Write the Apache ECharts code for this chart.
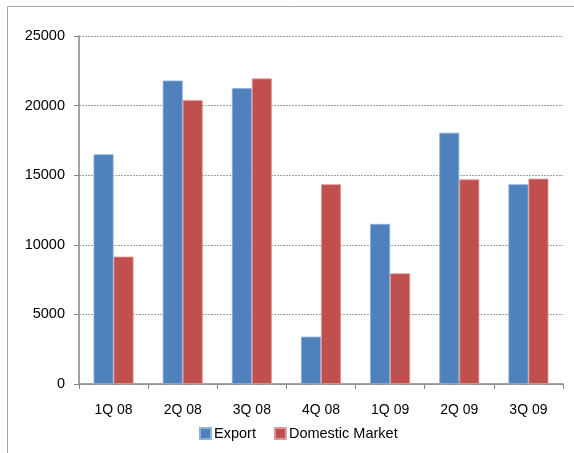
<!DOCTYPE html>
<html><head><meta charset="utf-8">
<script src="https://cdn.jsdelivr.net/npm/echarts@6/dist/echarts.min.js"></script>
<style>html,body{margin:0;padding:0;background:#fff}#c{width:574px;height:453px}</style>
</head><body><div id="c"></div>
<script>
const categories = ['1Q 08','2Q 08','3Q 08','4Q 08','1Q 09','2Q 09','3Q 09'];
const exportValues = [16500, 21800, 21250, 3400, 11500, 18050, 14350];
const domesticValues = [9150, 20400, 21950, 14350, 7950, 14700, 14750];
const yTicks = [0, 5000, 10000, 15000, 20000, 25000];

const chart = echarts.init(document.getElementById('c'));
const font = 'Liberation Sans, Arial, sans-serif';
chart.setOption({
  animation: false,
  graphic: [{type:'rect', shape:{x:7.5,y:6.5,width:600,height:500}, style:{fill:'none',stroke:'#a6a6a6',lineWidth:1}}],
  grid: {left:79, right:11, top:36, bottom:69, containLabel:false},
  legend: {
    left:199, top:426, padding:0, itemWidth:11, itemHeight:11, itemGap:18,
    icon:'rect',
    textStyle:{fontFamily:font, fontSize:14.5, color:'#000', padding:[0,0,0,-2]},
    data:['Export','Domestic Market']
  },
  xAxis: {
    type:'category', data:categories,
    axisLine:{lineStyle:{color:'#868686', width:1.5}},
    axisTick:{show:true, length:5, lineStyle:{color:'#868686'}, alignWithLabel:false},
    axisLabel:{fontFamily:font, fontSize:14, color:'#000', margin:19}
  },
  yAxis: {
    type:'value', min:yTicks[0], max:yTicks[yTicks.length-1], interval:5000,
    axisLine:{show:true, lineStyle:{color:'#868686', width:1.5}},
    axisTick:{show:true, length:5, lineStyle:{color:'#868686'}},
    axisLabel:{fontFamily:font, fontSize:14.5, color:'#000', margin:14, formatter: v => String(v)},
    splitLine:{lineStyle:{color:'#a0a0a0', type:[2,1], width:1}}
  },
  series: [
    {name:'Export', type:'bar', data:exportValues, barWidth:20, barGap:'0%',
     itemStyle:{color:'#4F81BD', borderColor:'#8fb0d9', borderWidth:0.8}},
    {name:'Domestic Market', type:'bar', data:domesticValues, barWidth:20,
     itemStyle:{color:'#C0504D', borderColor:'#dc9a98', borderWidth:0.8}}
  ]
});
</script></body></html>
